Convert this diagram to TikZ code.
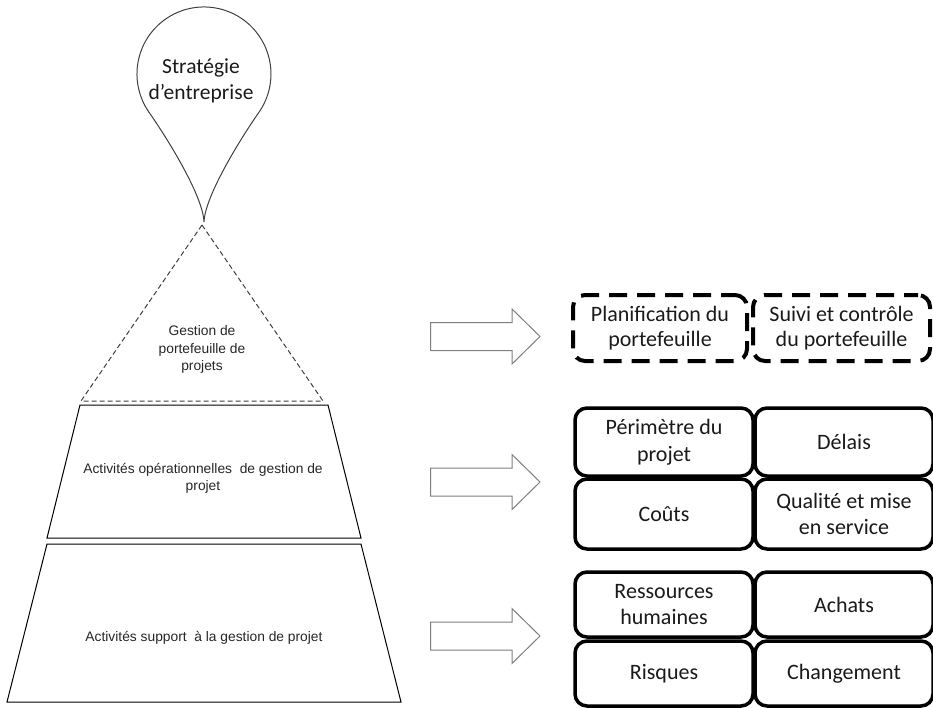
\documentclass[tikz,border=0pt]{standalone}
\usepackage{fontspec}
\setmainfont{Carlito}
\newfontfamily\arialf{Liberation Sans}
\usetikzlibrary{calc}
\definecolor{balloongray}{HTML}{404040}
\definecolor{arrowgray}{HTML}{7F7F7F}
\definecolor{txtdark}{HTML}{1A1A1A}
\definecolor{pyrtxt}{HTML}{262626}
\tikzset{
  blockarrow/.pic={
    \draw[arrowgray, line width=1pt, fill=white, line join=miter]
      (0,14) -- (81.5,14) -- (81.5,27.5) -- (109.5,0) -- (81.5,-27.5) -- (81.5,-14) -- (0,-14) -- cycle;
  },
  solidbox/.style={draw=black, line width=3.5pt, rounded corners=12pt, fill=white,
    minimum width=178pt, inner sep=0pt, align=center, text=txtdark,
    font=\fontsize{22}{26.5}\selectfont},
  dashbox/.style={draw=black, line width=4pt, rounded corners=12pt,
    dash pattern=on 18pt off 10pt, dash phase=4pt,
    minimum height=66pt, inner sep=0pt, align=center, text=txtdark,
    font=\fontsize{22}{25}\selectfont},
  pyrtext/.style={align=center, text=pyrtxt, inner sep=0pt,
    font=\arialf\fontsize{13.8}{17.5}\selectfont},
  trapline/.style={draw=black, line width=1pt},
}
\begin{document}
\begin{tikzpicture}[x=1pt, y=1pt]
\path[use as bounding box] (0,0) rectangle (933,-707);

% balloon
\coordinate (tip) at (204,-222);
\draw[balloongray, line width=1pt]
  (tip) .. controls (203,-195) and (165.2,-135.3) .. (149.1,-112.4)
  arc[start angle=215, end angle=-35, radius=67]
  .. controls (242.8,-135.3) and (205,-195) .. (tip);
\node[align=center, text=txtdark, inner sep=0pt, font=\fontsize{21.5}{26.5}\selectfont]
  (strat) at (201,-81) {Stratégie\\d’entreprise};

% pyramid
\draw[balloongray, line width=1pt, dash pattern=on 5pt off 3pt]
  (202,-225) -- (323,-401) -- (81,-401) -- cycle;
\draw[trapline] (80,-405) -- (328,-405) -- (361,-538) -- (47,-538) -- cycle;
\draw[trapline] (47,-544) -- (361,-544) -- (401,-702) -- (7,-702) -- cycle;
\node[pyrtext] (gp) at (202,-349.5) {Gestion de\\portefeuille de\\projets};
\node[pyrtext] (ao) at (203,-478.5) {Activités opérationnelles~ de gestion de\\projet};
\node[pyrtext] (as) at (204,-638) {Activités support~ à la gestion de projet};

% block arrows
\pic at (430.5,-336.5) {blockarrow};
\pic at (430.5,-482) {blockarrow};
\pic at (430.5,-636) {blockarrow};

% dashed boxes
\node[dashbox, minimum width=174pt] (d1) at (660,-328) {Planification du\\portefeuille};
\node[dashbox, minimum width=177pt] (d2) at (841.5,-328) {Suivi et contrôle\\du portefeuille};

% solid boxes
\node[solidbox, minimum height=68pt] (b1) at (664,-442) {Périmètre du\\projet};
\node[solidbox, minimum height=68pt] (b2) at (844,-442) {Délais};
\node[solidbox, minimum height=70pt] (b3) at (664,-514) {Coûts};
\node[solidbox, minimum height=70pt] (b4) at (844,-514) {Qualité et mise\\en service};
\node[solidbox, minimum height=65pt] (b5) at (664,-604.5) {Ressources\\humaines};
\node[solidbox, minimum height=65pt] (b6) at (844,-604.5) {Achats};
\node[solidbox, minimum height=65pt] (b7) at (664,-673.5) {Risques};
\node[solidbox, minimum height=65pt] (b8) at (844,-673.5) {Changement};
\end{tikzpicture}
\end{document}
